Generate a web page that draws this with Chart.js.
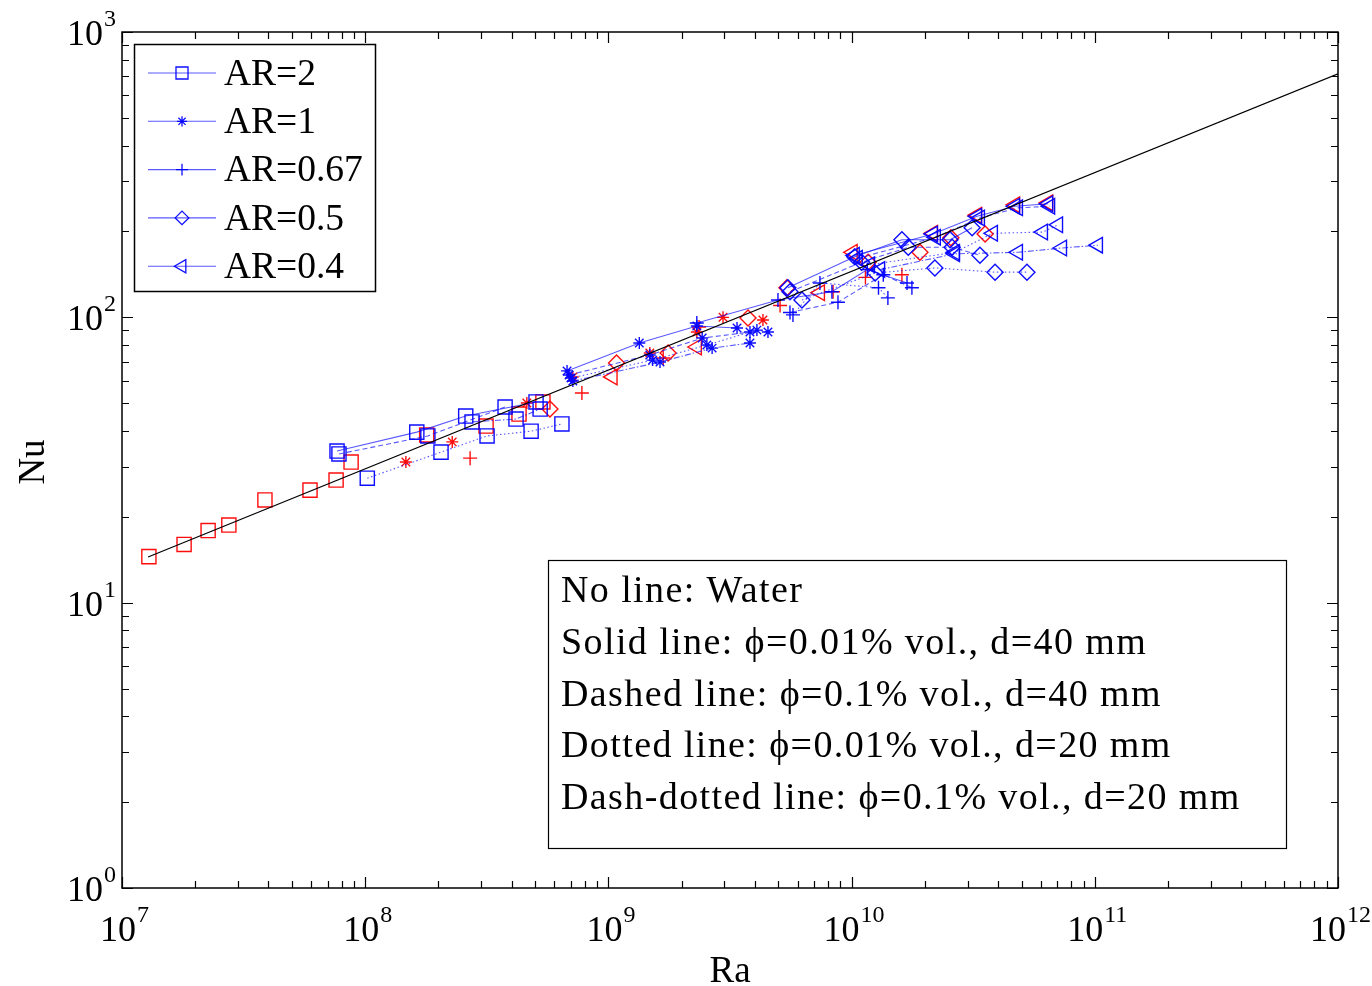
<!DOCTYPE html>
<html>
<head>
<meta charset="utf-8">
<script src="https://cdn.jsdelivr.net/npm/chart.js@4.4.0/dist/chart.umd.min.js"></script>
<style>
html, body { margin: 0; padding: 0; background: #fff; }
#wrap { width: 1372px; height: 986px; position: relative; }
</style>
</head>
<body>
<div id="wrap"><canvas id="chart"></canvas></div>
<script>
(function() {
    // ---- data ----
    var arLabels = ["AR=2", "AR=1", "AR=0.67", "AR=0.5", "AR=0.4"];
    var xDecades = [7, 8, 9, 10, 11, 12];
    var yDecades = [0, 1, 2, 3];

    // correlation line (black)
    var fitRa = [1.28e7, 1e12];
    var fitNu = [14.45, 713];

    // AR=2
    var ar2WaterRa = [1.29e7, 1.80e7, 2.26e7, 2.75e7, 3.87e7, 5.93e7, 7.59e7, 8.75e7, 1.79e8, 3.14e8, 4.29e8, 5.38e8];
    var ar2WaterNu = [14.5, 16.0, 17.9, 18.7, 22.9, 24.8, 26.9, 31.1, 38.7, 41.6, 45.8, 50.5];
    var ar2NfRa = [[7.66e7, 1.63e8, 2.59e8, 5.04e8], [7.80e7, 1.81e8, 3.76e8], [1.02e8, 2.05e8, 3.17e8, 4.81e8, 6.44e8], [2.75e8, 4.17e8, 5.24e8]];
    var ar2NfNu = [[34.0, 39.6, 45.1, 50.5], [33.2, 38.4, 48.5], [27.3, 33.7, 38.4, 39.9, 42.3], [43.0, 44.0, 47.7]];

    // AR=1
    var ar1WaterRa = [1.47e8, 2.28e8, 4.62e8, 7.14e8, 1.48e9, 2.31e9, 2.96e9, 4.32e9];
    var ar1WaterNu = [31.1, 36.6, 50.1, 61.8, 75.0, 88.8, 100, 97.9];
    var ar1NfRa = [[6.76e8, 1.34e9, 2.31e9, 3.38e9], [6.89e8, 1.48e9, 2.43e9, 3.82e9], [7.02e8, 1.52e9, 2.54e9, 4.08e9, 4.53e9], [7.14e8, 1.63e9, 2.67e9, 3.82e9]];
    var ar1NfNu = [[64.9, 81.3, 93.2, 91.8], [62.8, 73.8, 84.6, 88.8], [61.3, 70.8, 80.0, 90.2, 88.8], [59.8, 69.7, 78.0, 81.3]];

    // AR=0.67
    var ar067WaterRa = [2.70e8, 7.78e8, 1.68e9, 2.36e9, 5.08e9, 8.39e9, 1.14e10, 1.61e10];
    var ar067WaterNu = [32.1, 54.3, 72.0, 92.5, 110, 123, 138, 141];
    var ar067NfRa = [[2.31e9, 4.98e9, 8.30e9, 1.16e10, 1.69e10], [5.58e9, 8.79e9, 1.35e10, 1.77e10], [5.74e9, 7.41e9, 1.29e10, 1.41e10]];
    var ar067NfNu = [[95.5, 115, 123, 147, 132], [104, 113, 141, 127], [102, 132, 127, 117]];

    // AR=0.5
    var ar05WaterRa = [5.75e8, 1.08e9, 1.76e9, 3.75e9, 5.42e9, 1.17e10, 1.91e10, 2.56e10, 3.54e10];
    var ar05WaterNu = [47.7, 69.2, 75.0, 99.5, 127, 156, 169, 190, 196];
    var ar05NfRa = [[5.47e9, 1.03e10, 1.61e10, 2.54e10, 3.13e10], [5.58e9, 1.10e10, 1.71e10, 2.59e10, 3.37e10], [6.25e9, 1.25e10, 2.20e10, 3.89e10, 5.26e10]];
    var ar05NfNu = [[127, 163, 187, 187, 206], [123, 156, 176, 176, 165], [115, 143, 149, 144, 144]];

    // AR=0.4
    var ar04WaterRa = [1.04e9, 2.31e9, 7.41e9, 1.01e10, 2.16e10, 3.28e10, 4.70e10, 6.43e10];
    var ar04WaterNu = [61.8, 78.7, 122, 169, 197, 228, 248, 252];
    var ar04NfRa = [[1.03e10, 2.16e10, 3.28e10, 4.70e10, 6.43e10], [1.06e10, 2.22e10, 3.37e10, 4.83e10, 6.55e10], [1.19e10, 2.66e10, 3.81e10, 6.12e10, 7.06e10], [1.31e10, 2.66e10, 4.83e10, 7.33e10, 1.03e11]];
    var ar04NfNu = [[165, 196, 226, 245, 250], [161, 191, 223, 242, 245], [153, 169, 197, 199, 211], [147, 167, 169, 175, 179]];

    var noteLines = [
        "No line: Water",
        "Solid line: \u03d5=0.01% vol., d=40 mm",
        "Dashed line: \u03d5=0.1% vol., d=40 mm",
        "Dotted line: \u03d5=0.01% vol., d=20 mm",
        "Dash-dotted line: \u03d5=0.1% vol., d=20 mm"
    ];

    // ---- styles ----
    var markers = ["rect", "star", "cross", "rectRot", "triangle"];
    var radii = [10, 6, 7, 8, 9];
    var rotations = [0, 0, 0, 0, -90];
    var dashes = [[], [5, 3], [1.5, 2.5], [6, 2, 1.5, 2]];
    var RED = "rgba(255,0,0,0.95)";
    var BLUE = "rgba(0,0,255,0.95)";
    var BLUE_LINE = "rgba(0,0,255,0.65)";
    var FONT = '"Liberation Serif", "Times New Roman", serif';

    var waterRa = [ar2WaterRa, ar1WaterRa, ar067WaterRa, ar05WaterRa, ar04WaterRa];
    var waterNu = [ar2WaterNu, ar1WaterNu, ar067WaterNu, ar05WaterNu, ar04WaterNu];
    var nfRa = [ar2NfRa, ar1NfRa, ar067NfRa, ar05NfRa, ar04NfRa];
    var nfNu = [ar2NfNu, ar1NfNu, ar067NfNu, ar05NfNu, ar04NfNu];

    function zip(xs, ys) {
        return xs.map(function(x, k) { return { x: x, y: ys[k] }; });
    }

    var datasets = [];
    for (var i = 0; i < arLabels.length; i++) {
        datasets.push({
            label: arLabels[i] + " water",
            data: zip(waterRa[i], waterNu[i]),
            showLine: false,
            pointStyle: markers[i],
            pointRadius: radii[i],
            pointRotation: rotations[i],
            pointBorderColor: RED,
            pointBackgroundColor: "rgba(0,0,0,0)",
            pointBorderWidth: 1.4,
            order: 2
        });
        for (var j = 0; j < nfRa[i].length; j++) {
            datasets.push({
                label: arLabels[i] + " nf" + j,
                data: zip(nfRa[i][j], nfNu[i][j]),
                showLine: true,
                borderColor: BLUE_LINE,
                borderWidth: 1.1,
                borderDash: dashes[j],
                pointStyle: markers[i],
                pointRadius: radii[i],
                pointRotation: rotations[i],
                pointBorderColor: BLUE,
                pointBackgroundColor: "rgba(0,0,0,0)",
                pointBorderWidth: 1.4,
                order: 1
            });
        }
    }
    datasets.push({
        label: "fit",
        data: zip(fitRa, fitNu),
        showLine: true,
        borderColor: "#000",
        borderWidth: 1.2,
        pointRadius: 0,
        order: 0
    });

    function isMajor(v) {
        var l = Math.log10(v);
        return Math.abs(l - Math.round(l)) < 1e-9;
    }
    function tickValues(decades) {
        var out = [];
        for (var d = 0; d < decades.length; d++) {
            var p = Math.pow(10, decades[d]);
            out.push(p);
            if (d < decades.length - 1) {
                for (var m = 2; m <= 9; m++) out.push(m * p);
            }
        }
        return out;
    }

    function powLabel(ctx, exp, x, y, align) {
        ctx.font = "36px " + FONT;
        var wb = ctx.measureText("10").width;
        ctx.font = "24px " + FONT;
        var ws = ctx.measureText(String(exp)).width;
        var total = wb + ws;
        var left = align === "center" ? x - total / 2 : x - total;
        ctx.textAlign = "left";
        ctx.textBaseline = "alphabetic";
        ctx.font = "36px " + FONT;
        ctx.fillText("10", left, y);
        ctx.font = "24px " + FONT;
        ctx.fillText(String(exp), left + wb + 1, y - 19);
    }

    var deco = {
        id: "deco",
        afterDraw: function(chart) {
            var ctx = chart.ctx, a = chart.chartArea;
            var xs = chart.scales.x, ys = chart.scales.y;
            ctx.save();
            ctx.strokeStyle = "#000";
            ctx.fillStyle = "#000";
            ctx.lineWidth = 1.5;
            ctx.setLineDash([]);
            ctx.strokeRect(Math.round(a.left), Math.round(a.top), Math.round(a.right - a.left), Math.round(a.bottom - a.top));

            ctx.lineWidth = 1.2;
            ctx.beginPath();
            tickValues(xDecades).forEach(function(v) {
                var p = Math.round(xs.getPixelForValue(v)) + 0.5;
                var L = isMajor(v) ? 11 : 7;
                ctx.moveTo(p, a.bottom); ctx.lineTo(p, a.bottom - L);
                ctx.moveTo(p, a.top); ctx.lineTo(p, a.top + L);
            });
            tickValues(yDecades).forEach(function(v) {
                var p = Math.round(ys.getPixelForValue(v)) + 0.5;
                var L = isMajor(v) ? 11 : 7;
                ctx.moveTo(a.left, p); ctx.lineTo(a.left + L, p);
                ctx.moveTo(a.right, p); ctx.lineTo(a.right - L, p);
            });
            ctx.stroke();

            xDecades.forEach(function(d) {
                powLabel(ctx, d, xs.getPixelForValue(Math.pow(10, d)) + 2, a.bottom + 53, "center");
            });
            yDecades.forEach(function(d) {
                powLabel(ctx, d, a.left - 7, ys.getPixelForValue(Math.pow(10, d)) + 13, "right");
            });

            // axis titles
            ctx.font = "37px " + FONT;
            ctx.textAlign = "center";
            ctx.textBaseline = "alphabetic";
            ctx.fillText("Ra", (a.left + a.right) / 2, 982);
            ctx.save();
            ctx.translate(44, (a.top + a.bottom) / 2 + 2);
            ctx.rotate(-Math.PI / 2);
            ctx.fillText("Nu", 0, 0);
            ctx.restore();

            // legend box
            ctx.fillStyle = "#fff";
            ctx.fillRect(134, 44, 242, 248);
            ctx.strokeStyle = "#000";
            ctx.lineWidth = 1.5;
            ctx.strokeRect(134.5, 44.5, 241, 247);
            for (var k = 0; k < arLabels.length; k++) {
                var ly = 73 + k * 48.3;
                ctx.strokeStyle = BLUE_LINE;
                ctx.lineWidth = 1.1;
                ctx.beginPath();
                ctx.moveTo(148, ly); ctx.lineTo(216, ly);
                ctx.stroke();
                ctx.strokeStyle = BLUE;
                ctx.fillStyle = "rgba(0,0,0,0)";
                ctx.lineWidth = 1.3;
                Chart.helpers.drawPoint(ctx, { pointStyle: markers[k], radius: radii[k] * 0.85, rotation: rotations[k], borderWidth: 1.3 }, 182, ly);
                ctx.fillStyle = "#000";
                ctx.font = "37.5px " + FONT;
                ctx.textAlign = "left";
                ctx.textBaseline = "middle";
                ctx.fillText(arLabels[k], 224, ly + 2);
            }

            // note box
            ctx.fillStyle = "#fff";
            ctx.fillRect(548, 560, 738, 288);
            ctx.strokeStyle = "#000";
            ctx.lineWidth = 1.2;
            ctx.strokeRect(548.5, 560.5, 738, 288);
            ctx.fillStyle = "#000";
            ctx.font = "38px " + FONT;
            ctx.letterSpacing = "1.4px";
            ctx.textAlign = "left";
            ctx.textBaseline = "middle";
            noteLines.forEach(function(t, n) {
                ctx.fillText(t, 561, 592 + n * 51.8);
            });
            ctx.letterSpacing = "0px";
            ctx.restore();
        }
    };

    var ctx = document.getElementById("chart").getContext("2d");
    new Chart(ctx, {
        type: "scatter",
        data: { datasets: datasets },
        options: {
            responsive: true,
            maintainAspectRatio: false,
            animation: false,
            layout: { padding: { left: 122, top: 32, right: 34, bottom: 98 } },
            plugins: { legend: { display: false }, tooltip: { enabled: false } },
            elements: { line: { tension: 0 } },
            scales: {
                x: { type: "logarithmic", min: 1e7, max: 1e12, display: false },
                y: { type: "logarithmic", min: 1, max: 1000, display: false }
            }
        },
        plugins: [deco]
    });
})();
</script>
</body>
</html>
